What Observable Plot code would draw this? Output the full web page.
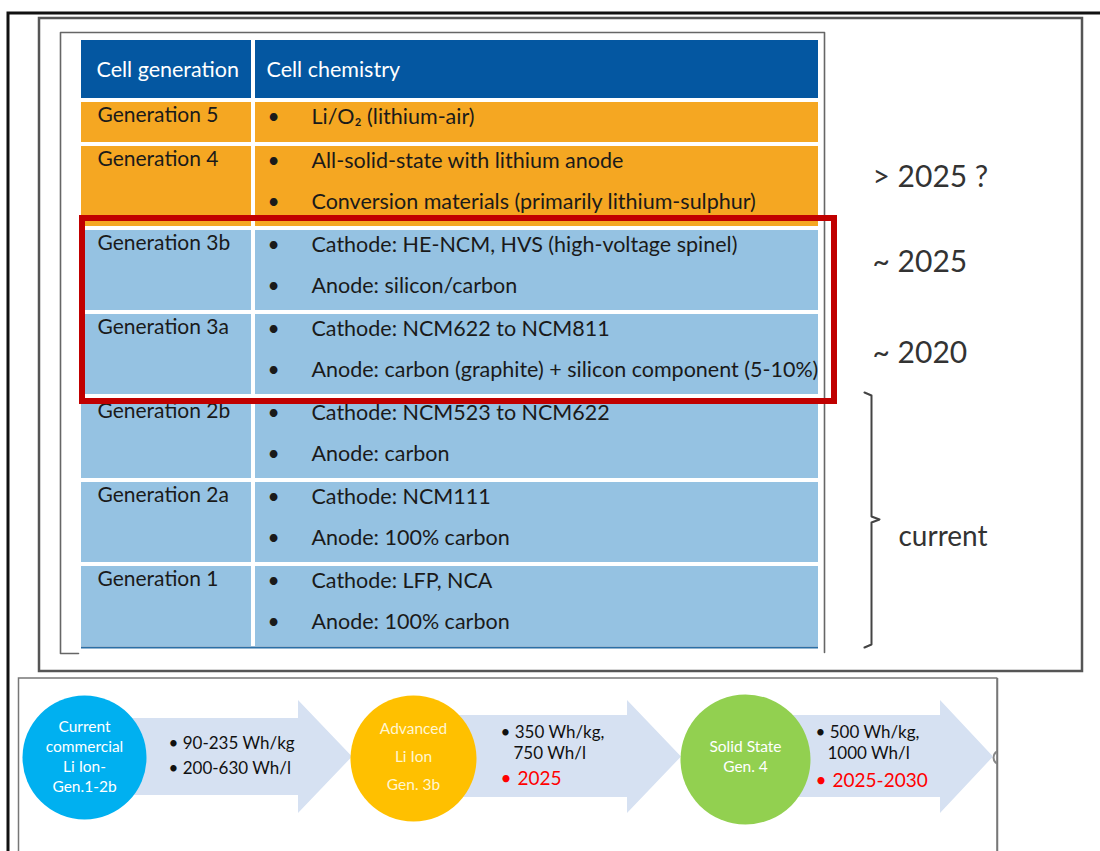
<!DOCTYPE html>
<html><head><meta charset="utf-8">
<script src="https://cdn.jsdelivr.net/npm/d3@7"></script>
<script src="https://cdn.jsdelivr.net/npm/@observablehq/plot@0.6"></script>
<style>body{margin:0;background:#fff}</style>
</head><body><div id="chart"></div>
<script>
// ---------- content ----------
const headers = ["Cell generation", "Cell chemistry"];
const generations = ["Generation 5","Generation 4","Generation 3b","Generation 3a","Generation 2b","Generation 2a","Generation 1"];
const chemistry = [
  ["Li/O\u2082 (lithium-air)"],
  ["All-solid-state with lithium anode","Conversion materials (primarily lithium-sulphur)"],
  ["Cathode: HE-NCM, HVS (high-voltage spinel)","Anode: silicon/carbon"],
  ["Cathode: NCM622 to NCM811","Anode: carbon (graphite) + silicon component (5-10%)"],
  ["Cathode: NCM523 to NCM622","Anode: carbon"],
  ["Cathode: NCM111","Anode: 100% carbon"],
  ["Cathode: LFP, NCA","Anode: 100% carbon"]
];
const phases = ["future","future","lithium-ion","lithium-ion","lithium-ion","lithium-ion","lithium-ion"];
const timeframes = ["> 2025 ?","~ 2025","~ 2020","current"];
const stageNames = [["Current","commercial","Li Ion-","Gen.1-2b"],["Advanced","Li Ion","Gen. 3b"],["Solid State","Gen. 4"]];
const stageSpecs = [["90-235 Wh/kg","200-630 Wh/l"],["350 Wh/kg,","750 Wh/l"],["500 Wh/kg,","1000 Wh/l"]];
const stageYears = [null,"2025","2025-2030"];

// ---------- layout & style ----------
const W = 1100, H = 851;
const FONT = "Lato";
const phaseColor = {"future":"#f5a722","lithium-ion":"#95c2e2"};
const stageColor = ["#00b0f0","#ffc000","#92d050"];
const stageTextColor = ["#ffffff","#fff6d2","#ffffff"];
const col = {x0:81, x1:251, x2:255, x3:818, bulletX:273, textX:311};
const headTop = 40, headBot = 98, rowTop0 = 102, lineH = 40, gap = 4;

// table rows
const rows = [];
let cursor = rowTop0;
generations.forEach((g, i) => {
  const h = lineH * chemistry[i].length;
  rows.push({gen: g, top: cursor, bot: cursor + h, fill: phaseColor[phases[i]]});
  cursor += h + gap;
});
const cells = [
  {x1: col.x0, x2: col.x1, y1: headTop, y2: headBot, fill: "#0457a1"},
  {x1: col.x2, x2: col.x3, y1: headTop, y2: headBot, fill: "#0457a1"},
  ...rows.flatMap(r => [
    {x1: col.x0, x2: col.x1, y1: r.top, y2: r.bot, fill: r.fill},
    {x1: col.x2, x2: col.x3, y1: r.top, y2: r.bot, fill: r.fill}
  ])
];
const headerText = headers.map((t, i) => ({t, x: i === 0 ? 96 : 266, y: 70}));
const genText = rows.map(r => ({t: r.gen, x: 97, y: r.top + 13}));
const chemText = rows.flatMap((r, i) => chemistry[i].map((t, j) => ({t, y: r.top + 15 + j * 41})));

// right-hand labels
const tfPos = [{x: 872, y: 177}, {x: 872, y: 262}, {x: 872, y: 353}, {x: 898, y: 537}];
const tfText = timeframes.map((t, i) => ({t, ...tfPos[i], size: i === 3 ? 28 : 30}));
const brace = [[864,392],[871,395],[871,516],[879,519],[871,522],[871,644],[864,647]].map(([x,y]) => ({x, y}));

// frames
const frames = [
  {x1: 8, x2: 1120, y1: 13, y2: 870, stroke: "#111", sw: 3},
  {x1: 39, x2: 1082, y1: 18, y2: 671, stroke: "#555", sw: 2.5},
  {x1: 18.5, x2: 997, y1: 678, y2: 870, stroke: "#777", sw: 1.5}
];
const inner = [[78,653],[60,653],[60,32],[824,32],[824,652]].map(([x,y]) => ({x, y}));

// timeline stages
const stageGeom = [
  {cx: 84, cy: 757, r: 62, start: 84, base: 298, tip: 352, bt: 718, bb: 795, ht: 700, hb: 813,
   nameY0: 727, nameStep: 19.7, specX: 168, specY: [743, 768], yearY: null},
  {cx: 413, cy: 758, r: 63, start: 413, base: 627, tip: 681, bt: 715, bb: 797, ht: 700, hb: 813,
   nameY0: 729, nameStep: 28, specX: 500, specX2: 513, specY: [732, 753], yearY: 778},
  {cx: 745, cy: 759, r: 65, start: 745, base: 940, tip: 993, bt: 715, bb: 797, ht: 700, hb: 813,
   nameY0: 747, nameStep: 20, specX: 815, specX2: 827, specY: [732, 753], yearY: 780}
];
const arrowPts = stageGeom.flatMap((g, i) => [
  {k: i, x: g.start, y1: g.bt, y2: g.bb},
  {k: i, x: g.base, y1: g.bt, y2: g.bb},
  {k: i, x: g.base, y1: g.ht, y2: g.hb},
  {k: i, x: g.tip, y1: (g.ht + g.hb) / 2, y2: (g.ht + g.hb) / 2}
]);
const circles = stageGeom.map((g, i) => ({x: g.cx, y: g.cy, r: g.r, fill: stageColor[i]}));
const nameText = stageNames.flatMap((lines, i) => lines.map((t, j) =>
  ({t, x: stageGeom[i].cx, y: stageGeom[i].nameY0 + j * stageGeom[i].nameStep, fill: stageTextColor[i]})));
const specText = stageSpecs.flatMap((lines, i) => lines.map((t, j) => {
  const g = stageGeom[i];
  const bullet = (i === 0 || j === 0);
  return {t: bullet ? "\u2022 " + t : t, x: bullet ? g.specX : g.specX2, y: g.specY[j]};
}));
const yearText = stageYears.map((t, i) => t && ({t, x: stageGeom[i].specX, y: stageGeom[i].yearY})).filter(Boolean);

const plot = Plot.plot({
  width: W, height: H, margin: 0,
  x: {domain: [0, W], range: [0, W], axis: null},
  y: {domain: [0, H], range: [0, H], axis: null},
  r: {type: "identity"},
  style: {fontFamily: FONT, background: "#fff"},
  marks: [
    // frames
    Plot.rect(frames, {x1: "x1", x2: "x2", y1: "y1", y2: "y2", fill: "none", stroke: "stroke", strokeWidth: "sw"}),
    Plot.line(inner, {x: "x", y: "y", stroke: "#666", strokeWidth: 1.6}),
    // table
    Plot.rect(cells, {x1: "x1", x2: "x2", y1: "y1", y2: "y2", fill: "fill"}),
    Plot.ruleY([rows[rows.length - 1].bot + 1], {x1: col.x0, x2: col.x3, stroke: "#2a6fa6", strokeWidth: 2}),
    Plot.text(headerText, {x: "x", y: "y", text: "t", textAnchor: "start", lineAnchor: "middle", fill: "#fff", fontSize: 21.5}),
    Plot.text(genText, {x: "x", y: "y", text: "t", textAnchor: "start", lineAnchor: "middle", fill: "#1a1a1a", fontSize: 21}),
    Plot.text(chemText, {x: col.bulletX, y: "y", text: () => "\u2022", textAnchor: "middle", lineAnchor: "middle", fill: "#1a1a1a", fontSize: 21}),
    Plot.text(chemText, {x: col.textX, y: "y", text: "t", textAnchor: "start", lineAnchor: "middle", fill: "#1a1a1a", fontSize: 21.5}),
    // highlight box
    Plot.rect([{x1: 82, x2: 834, y1: 218, y2: 401}], {x1: "x1", x2: "x2", y1: "y1", y2: "y2", fill: "none", stroke: "#c00000", strokeWidth: 6}),
    // right labels
    Plot.text(tfText, {x: "x", y: "y", text: "t", textAnchor: "start", lineAnchor: "middle", fill: "#333", fontSize: "size"}),
    Plot.line(brace, {x: "x", y: "y", stroke: "#444", strokeWidth: 2}),
    // timeline
    Plot.dot([{x: 1000, y: 757}], {x: "x", y: "y", r: 7, stroke: "#888", strokeWidth: 2, fill: "none"}),
    Plot.areaY(arrowPts, {x: "x", y1: "y1", y2: "y2", z: "k", fill: "#d6e1f2", curve: "linear"}),
    Plot.rect([{x1: 997.5, x2: 1100, y1: 676, y2: 851}], {x1: "x1", x2: "x2", y1: "y1", y2: "y2", fill: "#fff"}),
    Plot.ruleX([997], {y1: 678, y2: 851, stroke: "#777", strokeWidth: 1.5}),
    Plot.dot(circles, {x: "x", y: "y", r: "r", fill: "fill"}),
    Plot.text(nameText, {x: "x", y: "y", text: "t", fill: "fill", fontSize: 15.5, lineAnchor: "middle"}),
    Plot.text(specText, {x: "x", y: "y", text: "t", textAnchor: "start", lineAnchor: "middle", fill: "#111", fontSize: 17}),
    Plot.text(yearText, {x: "x", y: "y", text: () => "\u2022", textAnchor: "start", lineAnchor: "middle", fill: "#ff0000", fontSize: 19}),
    Plot.text(yearText, {x: d => d.x + 17, y: "y", text: "t", textAnchor: "start", lineAnchor: "middle", fill: "#ff0000", fontSize: 19})
  ]
});
document.getElementById("chart").append(plot);
</script>
</body></html>
